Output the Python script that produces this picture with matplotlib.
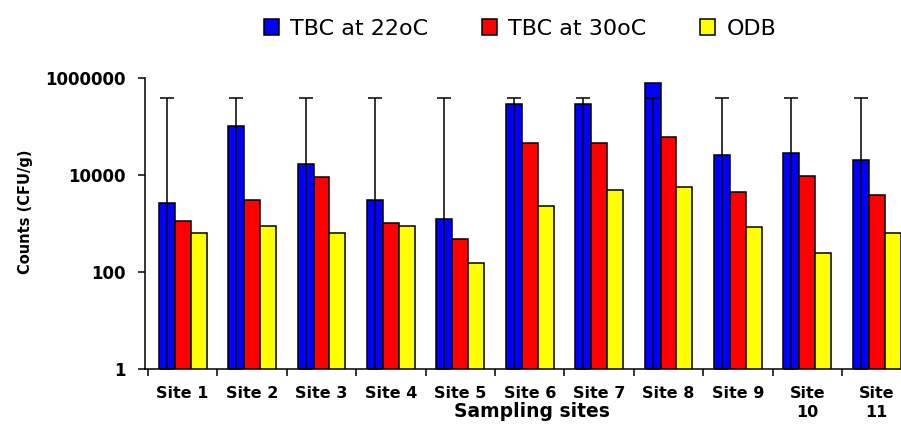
import numpy as np
import matplotlib
matplotlib.use('Agg')
import matplotlib.pyplot as plt

# Values (log scale)
sites = ['Site 1', 'Site 2', 'Site 3', 'Site 4', 'Site 5', 'Site 6',
         'Site 7', 'Site 8', 'Site 9', 'Site\n10', 'Site\n11']
tbc_22 = [2600, 100000, 17000, 3050, 1220, 287000, 287000, 780000, 26000, 28000, 20000]
tbc_30 = [1130, 3050, 8900, 1000, 485, 46000, 46000, 60000, 4500, 9500, 3870]
odb = [625, 890, 625, 890, 155, 2330, 4900, 5700, 860, 250, 625]
err_top = [393000, 393000, 393000, 393000, 393000, 393000,
           393000, 393000, 393000, 393000, 393000]

plt.rcParams['font.family'] = ['DejaVu Sans']

fig = plt.figure(figsize=(9.01, 4.24), dpi=100)
ax = fig.add_axes([145 / 901, 1 - 369 / 424, 756 / 901, 291 / 424])

x = np.arange(len(sites))
w = 0.23
bar_kw = dict(width=w, edgecolor='black', linewidth=1.1, zorder=1)
ax.bar(x - w, tbc_22, color='#0000FF', label='TBC at 22oC', **bar_kw)
ax.bar(x, tbc_30, color='#FF0000', label='TBC at 30oC', **bar_kw)
ax.bar(x + w, odb, color='#FFFF00', label='ODB', **bar_kw)

# error bars on the 22oC series run from the axis floor up to a common cap
top = np.array(err_top, dtype=float)
ax.errorbar(x - w, top, yerr=[top - 1, np.zeros_like(top)], fmt='none',
            ecolor='black', elinewidth=1.1, capsize=4.7, capthick=1.1, zorder=3)

ax.set_yscale('log')
ax.set_ylim(1, 1e6)
ax.set_yticks([1, 100, 10000, 1000000])
ax.set_yticklabels(['1', '100', '10000', '1000000'])
ax.yaxis.set_minor_locator(matplotlib.ticker.NullLocator())
ax.set_xlim(-0.543, 10.35)
ax.set_xticks(np.arange(len(sites)) - 0.5)
ax.set_xticklabels([])
ax.set_xticks(x, minor=True)
ax.set_xticklabels(sites, minor=True, fontweight='bold', fontsize=11.5,
                   linespacing=1.35)
ax.tick_params(axis='x', which='minor', length=0, pad=12)
ax.tick_params(axis='x', which='major', length=5, width=1.1, direction='out')
ax.tick_params(axis='y', length=5, width=1.1, pad=9, labelsize=12)
for lbl in ax.get_yticklabels():
    lbl.set_fontweight('bold')

for s in ['top', 'right']:
    ax.spines[s].set_visible(False)
for s in ['left', 'bottom']:
    ax.spines[s].set_linewidth(1.1)

ax.set_ylabel('Counts (CFU/g)', fontweight='bold', fontsize=10.5)
ax.yaxis.set_label_coords(-0.148, 0.54)
ax.set_xlabel('Sampling sites', fontweight='bold', fontsize=13.5)
ax.xaxis.set_label_coords(0.512, -0.115)

fig.legend(loc='center', bbox_to_anchor=(520 / 901, 1 - 29 / 424), ncol=3,
           frameon=False, fontsize=16, handlelength=0.7, handleheight=0.7,
           handletextpad=0.5, columnspacing=2.4)

plt.savefig('out.png', dpi=100)
plt.close()
